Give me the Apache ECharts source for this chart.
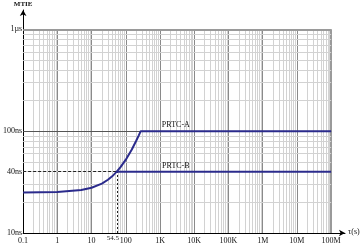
<!DOCTYPE html>
<html><head><meta charset="utf-8">
<script src="https://cdn.jsdelivr.net/npm/echarts@6/dist/echarts.min.js"></script>
<style>html,body{margin:0;padding:0;background:#fff}#c{width:360px;height:247px}</style>
</head><body><div id="c"></div>
<script>
// ---- data ----
const tauA = [0.1, 1, 5, 10, 20, 30, 40, 54.5, 70, 100, 150, 200, 240, 273, 1e8];
const mtieA = [25, 25.3, 26.4, 27.8, 30.5, 33.3, 36, 40, 44.3, 52.5, 66, 80, 91, 100, 100];
const tauB = [54.5, 1e8];
const mtieB = [40, 40];
const xTickValues = [0.1, 1, 10, 100, 1e3, 1e4, 1e5, 1e6, 1e7, 1e8];
const xTickLabels = ['0.1', '1', '10', '100', '1K', '10K', '100K', '1M', '10M', '100M'];
const yTickValues = [10, 40, 100, 1000];
const yTickLabels = ['10ns', '40ns', '100ns', '1µs'];
const crossTau = 54.5, crossVal = 40;
const seriesNames = ['PRTC-A', 'PRTC-B'];
const labelPos = [[2900, 100], [2900, 40]];
const xAxisTitle = 'τ(s)', yAxisTitle = 'MTIE';

// ---- helpers ----
const FONT = 'Liberation Serif';
const xMin = 0.1, xEnd = 1e8, yMin = 10, yEnd = 1000;
const seg = (x1, y1, x2, y2, style) => [{coord: [x1, y1], lineStyle: style}, {coord: [x2, y2]}];
const gridLines = [];
const minorV = {color: '#d2d2d2', width: 1, type: 'solid'};
const majorV = {color: '#8a8a8a', width: 1, type: 'solid'};
for (let e = -1; e <= 7; e++) {
  for (let k = 2; k <= 9; k++) {
    const v = k * Math.pow(10, e);
    gridLines.push(seg(v, yMin, v, yEnd, minorV));
  }
}
for (let e = 0; e <= 8; e++) {
  const v = Math.pow(10, e);
  gridLines.push(seg(v, yMin, v, yEnd, e === 8 ? {color: '#9a9a9a', width: 2, type: 'solid'} : majorV));
}
for (let e = 1; e <= 2; e++) {
  for (let k = 2; k <= 9; k++) {
    const v = k * Math.pow(10, e);
    gridLines.push(seg(xMin, v, xEnd, v, minorV));
  }
}
gridLines.push(seg(xMin, 100, xEnd, 100, {color: '#555', width: 1.2, type: 'solid'}));
gridLines.push(seg(xMin, 1000, xEnd, 1000, {color: '#9a9a9a', width: 2, type: 'solid'}));

const dashLines = [
  seg(xMin, crossVal, crossTau, crossVal, {color: '#222', width: 1, type: [3, 2]}),
  [{coord: [crossTau, yMin], lineStyle: {color: '#222', width: 1, type: [2, 2]},
    label: {show: true, position: 'start', formatter: String(crossTau), fontFamily: FONT, fontSize: 7, color: '#222', offset: [-4, -3]}},
   {coord: [crossTau, crossVal]}]
];

const chart = echarts.init(document.getElementById('c'), null, {renderer: 'canvas'});
chart.setOption({
  animation: false,
  backgroundColor: '#fff',
  grid: {left: 20, right: 15, top: 10, bottom: 14, containLabel: false},
  graphic: [
    {type: 'text', left: 348, top: 228, silent: true,
     style: {text: xAxisTitle, fontFamily: FONT, fontSize: 8, fill: '#111'}}
  ],
  xAxis: {
    type: 'log', logBase: 10, min: xMin, max: 2.54e8,
    splitLine: {show: false}, axisTick: {show: false},
    axisLine: {show: true, lineStyle: {color: '#000', width: 1}, symbol: ['none', 'arrow'], symbolSize: [5, 6]},
    axisLabel: {
      customValues: xTickValues, fontFamily: FONT, fontSize: 8, color: '#111', margin: 4,
      formatter: v => { const i = xTickValues.findIndex(t => Math.abs(Math.log10(t) - Math.log10(v)) < 1e-6); return i >= 0 ? xTickLabels[i] : ''; }
    }
  },
  yAxis: {
    type: 'log', logBase: 10, min: yMin, max: 1546,
    splitLine: {show: false}, axisTick: {show: false},
    axisLine: {show: true, lineStyle: {color: '#000', width: 1}, symbol: ['none', 'arrow'], symbolSize: [5, 6]},
    axisLabel: {
      customValues: yTickValues, fontFamily: FONT, fontSize: 8, color: '#111', margin: 1,
      formatter: v => { const i = yTickValues.findIndex(t => Math.abs(Math.log10(t) - Math.log10(v)) < 1e-6); return i >= 0 ? yTickLabels[i] : ''; }
    },
    name: yAxisTitle, nameLocation: 'end', nameGap: 2,
    nameTextStyle: {fontFamily: FONT, fontSize: 7, fontWeight: 'bold', color: '#111', align: 'center'}
  },
  series: [
    {type: 'line', data: [], silent: true, z: 1,
     markLine: {silent: true, symbol: ['none', 'none'], label: {show: false}, animation: false, data: gridLines}},
    {type: 'line', data: [], silent: true, z: 3,
     markLine: {silent: true, symbol: ['none', 'none'], animation: false, data: dashLines}},
    {name: seriesNames[0], type: 'line', z: 5, showSymbol: false, smooth: false,
     data: tauA.map((t, i) => [t, mtieA[i]]),
     lineStyle: {color: '#2b2b8c', width: 2},
     markPoint: {symbol: 'circle', symbolSize: 0, data: [{coord: labelPos[0], label: {show: true, formatter: seriesNames[0], fontFamily: FONT, fontSize: 8, color: '#111', offset: [0, -6]}}]}},
    {name: seriesNames[1], type: 'line', z: 5, showSymbol: false,
     data: tauB.map((t, i) => [t, mtieB[i]]),
     lineStyle: {color: '#2b2b8c', width: 2},
     markPoint: {symbol: 'circle', symbolSize: 0, data: [{coord: labelPos[1], label: {show: true, formatter: seriesNames[1], fontFamily: FONT, fontSize: 8, color: '#111', offset: [0, -6]}}]}}
  ]
});
</script></body></html>
